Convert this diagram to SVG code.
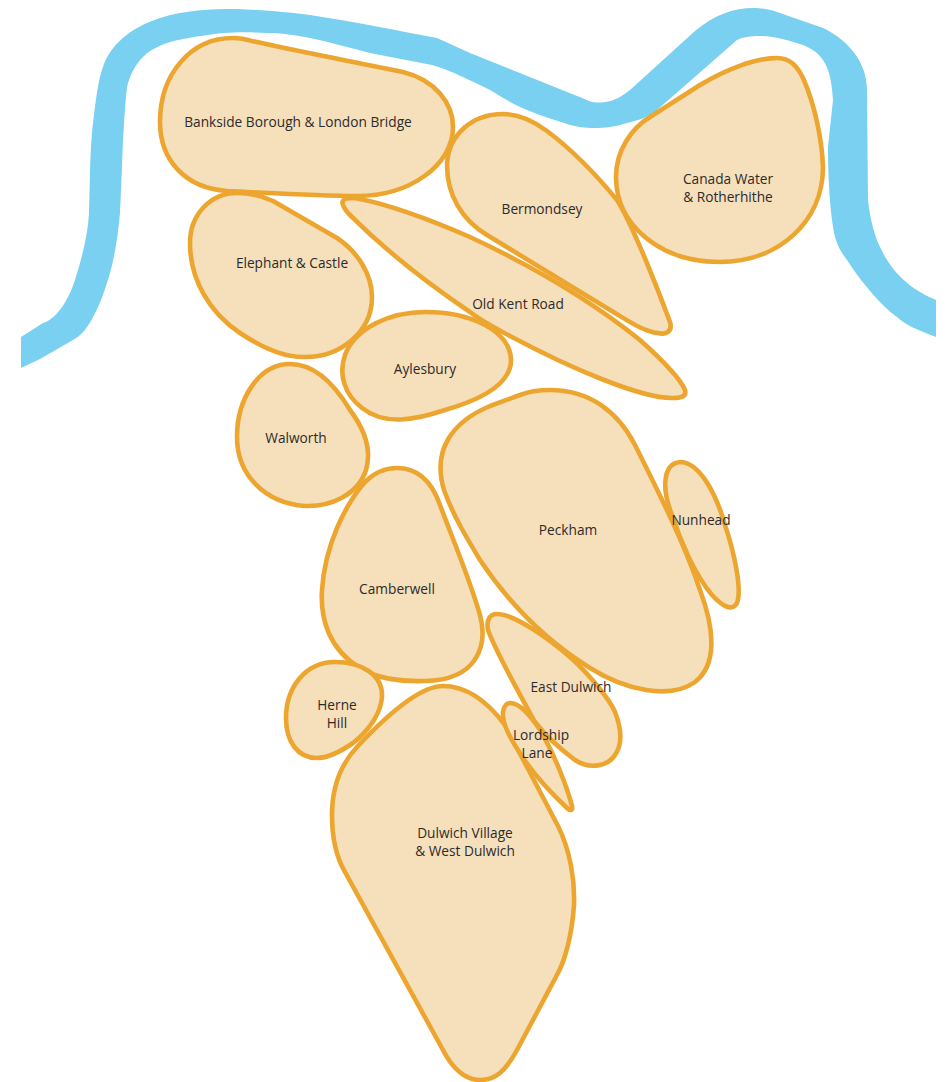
<svg xmlns="http://www.w3.org/2000/svg" width="946" height="1082" viewBox="0 0 946 1082">
<style>
.a{fill:#f6dfbb;stroke:#eca62f;stroke-width:4.6;stroke-linejoin:round}
.r{fill:#79d0f0;stroke:none}
text{font-family:"Open Sans","Noto Sans",sans-serif;font-size:13.7px;fill:#2b2b2b;text-anchor:middle}
</style>
<rect width="946" height="1082" fill="#fff"/>
<path id="river" class="r" d="M21 337L43 323C55 320 68 302 75 280C83 255 88 232 89 213C90 180 90 155 92 133C95 105 98 80 103 67C110 45 130 28 160 18C185 10 210 9 237 9C265 10 285 12 310 15C350 21 395 30 437 38L470 53L587 100C592 103 600 103 605 102C615 101 622 96 630 90L695 31C715 14 735 8 753 8C765 8 772 10 780 13L823 28C848 40 867 62 867 90L868 200C870 218 874 235 880 247C890 268 905 287 936 300V337C918 330 905 325 897 317C880 305 860 280 847 260C838 248 835 240 833 227C829 200 828 170 828 147L833 100C832 85 830 70 823 60C818 52 810 48 803 45C790 41 775 36 760 36C750 36 743 37 737 40L657 110C648 118 638 120 627 123C615 127 605 128 593 128C585 128 578 127 570 125C555 120 535 114 520 107C505 100 495 92 482 86L465 78C455 73 445 69 432 65L370 53C350 48 330 42 310 38C295 35 282 33 267 33C250 32 238 32 223 33C205 35 185 38 170 42C158 46 150 50 143 57C135 65 130 75 127 87C124 115 123 140 122 167L120 213C118 235 115 255 110 273C105 290 100 305 93 317C88 327 82 335 73 340L40 359L21 368Z"/>
<g id="bankside"><path class="a" d="M233 38C240 38 245 39 252 41C300 52 355 62 403 72C435 80 453 103 453 127C453 165 410 196 357 196C315 196 270 193 227 191C185 188 160 160 160 122C160 75 190 38 233 38Z"/><text x="298" y="127">Bankside Borough &amp; London Bridge</text></g>
<g id="elephant"><path class="a" d="M237 193C250 193 262 196 273 201L337 238C358 252 372 275 372 297C372 332 340 358 303 357C280 357 258 345 240 333C210 313 190 280 190 243C190 215 210 193 237 193Z"/><text x="292" y="268">Elephant &amp; Castle</text></g>
<g id="oldkent"><path class="a" d="M343 205C340 198 350 197 360 199C395 206 440 224 470 237C530 265 590 300 640 340C660 358 680 378 685 390C687 397 680 398 672 398C640 398 570 368 510 336C495 328 480 320 470 312C430 285 385 250 350 215C346 211 344 208 343 205Z"/><text x="518" y="309">Old Kent Road</text></g>
<g id="bermondsey"><path class="a" d="M503 114C520 114 535 122 547 131C575 152 603 183 617 200C633 225 660 295 670 322C673 332 665 335 658 333C645 332 630 322 615 313L487 235C462 220 447 195 447 165C448 135 472 114 503 114Z"/><text x="542" y="214">Bermondsey</text></g>
<g id="canada"><path class="a" d="M777 58C790 58 797 66 803 78C815 105 822 140 823 167C823 222 778 262 720 262C660 262 616 225 616 177C616 150 632 128 650 117L700 85C725 70 755 58 777 58Z"/><text x="728" y="184">Canada Water</text><text x="728" y="202">&amp; Rotherhithe</text></g>
<g id="aylesbury"><path class="a" d="M425 312C470 312 510 330 511 360C511 385 480 400 445 410C415 420 385 426 362 408C345 395 338 375 345 355C355 328 390 312 425 312Z"/><text x="425" y="374">Aylesbury</text></g>
<g id="walworth"><path class="a" d="M290 364C315 364 335 385 350 410C365 430 372 450 366 470C358 495 330 507 305 506C265 503 237 475 237 437C237 400 258 364 290 364Z"/><text x="296" y="443">Walworth</text></g>
<g id="peckham"><path class="a" d="M550 390C590 390 618 412 635 445C660 495 685 545 700 590C715 630 717 665 695 682C670 700 625 690 590 668C545 640 510 605 480 560C465 535 453 515 444 490C432 450 452 422 490 406L520 395C530 391 540 390 550 390Z"/><text x="568" y="535">Peckham</text></g>
<g id="nunhead"><path class="a" d="M680 462C698 462 715 490 725 525C735 555 742 590 737 603C732 612 722 606 712 595C695 575 680 540 672 515C662 490 662 464 680 462Z"/><text x="701" y="525">Nunhead</text></g>
<g id="camberwell"><path class="a" d="M397 468C418 468 432 482 440 505C455 545 470 580 480 615C488 645 478 680 425 681C400 682 375 678 360 668C330 650 320 620 322 590C325 545 345 505 365 482C375 472 385 468 397 468Z"/><text x="397" y="594">Camberwell</text></g>
<g id="herne"><path class="a" d="M335 662C362 662 383 675 382 697C381 712 370 730 353 743C340 752 328 758 317 758C298 758 286 742 286 718C286 688 305 662 335 662Z"/><text x="337" y="710">Herne</text><text x="337" y="728">Hill</text></g>
<g id="eastdulwich"><path class="a" d="M497 614C515 614 550 640 570 657C590 675 610 700 615 712C622 730 622 745 615 755C608 766 590 770 575 760C555 745 545 735 535 722C520 695 495 650 488 630C486 620 490 614 497 614Z"/><text x="571" y="692">East Dulwich</text></g>
<g id="dulwich"><path class="a" d="M443 686C470 686 490 705 505 725L558 826C570 850 575 880 574 905C572 935 565 960 558 973L517 1050C505 1072 495 1080 480 1080C465 1080 452 1068 443 1050L345 872C335 855 332 835 332 815C332 785 342 763 357 747C372 731 415 686 443 686Z"/><text x="465" y="838">Dulwich Village</text><text x="465" y="856">&amp; West Dulwich</text></g>
<g id="lordship"><path class="a" d="M510 703C520 703 530 715 540 730C555 755 568 790 572 806C573 811 570 811 567 808C550 792 530 770 518 750C508 735 502 722 503 712C504 706 506 703 510 703Z"/><text x="541" y="740">Lordship</text><text x="537" y="758">Lane</text></g>
</svg>
